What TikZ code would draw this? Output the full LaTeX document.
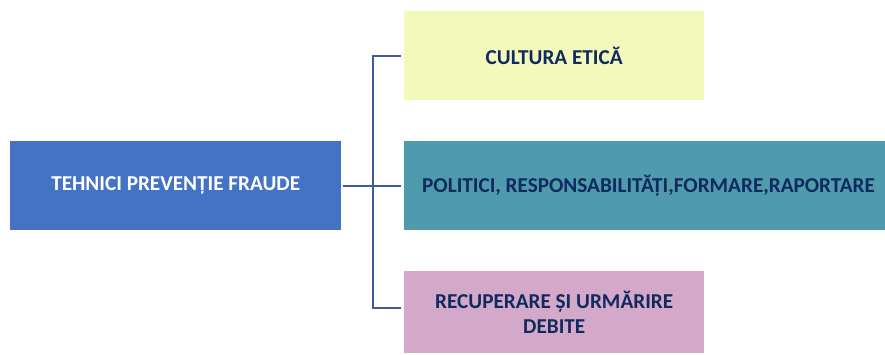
\documentclass[tikz,border=0pt]{standalone}
\usepackage{fontspec}
\setmainfont{Carlito}
\definecolor{mainblue}{HTML}{4472C4}
\definecolor{yellowbox}{HTML}{F2F9BB}
\definecolor{tealbox}{HTML}{4F9AAD}
\definecolor{pinkbox}{HTML}{D3A8C9}
\definecolor{navytext}{HTML}{10295E}
\definecolor{linecol}{HTML}{3D5C9E}
\begin{document}
\begin{tikzpicture}[x=1pt,y=-1pt,
  box/.style={draw=none,rectangle,inner sep=0pt,font=\bfseries\fontsize{21.2}{25}\selectfont,align=center},
  conn/.style={draw=linecol,line width=2.2pt}]
\useasboundingbox (0,0) rectangle (885,354);
\node[box,fill=mainblue,text=white,minimum width=331pt,minimum height=89pt,anchor=north west] (root) at (10,141) {TEHNICI PREVENȚIE FRAUDE};
\node[box,fill=yellowbox,text=navytext,minimum width=300pt,minimum height=89pt,anchor=north west] (a) at (404,11) {CULTURA ETICĂ};
\node[box,fill=tealbox,text=navytext,minimum width=481pt,minimum height=89pt,anchor=north west] (b) at (404,141) {};
\node[font=\bfseries\fontsize{21.2}{25}\selectfont,text=navytext,inner sep=0pt] (bt) at (648.5,186) {POLITICI, RESPONSABILITĂȚI,FORMARE,RAPORTARE};
\node[box,fill=pinkbox,text=navytext,minimum width=300pt,minimum height=82pt,anchor=north west] (c) at (404,271) {RECUPERARE ȘI URMĂRIRE\\DEBITE};
\coordinate (j) at (373,186);
\draw[conn] ([xshift=2pt]root.east) -- ([xshift=-3pt]b.west);
\draw[conn] ([xshift=-3pt]a.west) -| (j);
\draw[conn] ([xshift=-3pt,yshift=4pt]c.west) -| (j);
\end{tikzpicture}
\end{document}
